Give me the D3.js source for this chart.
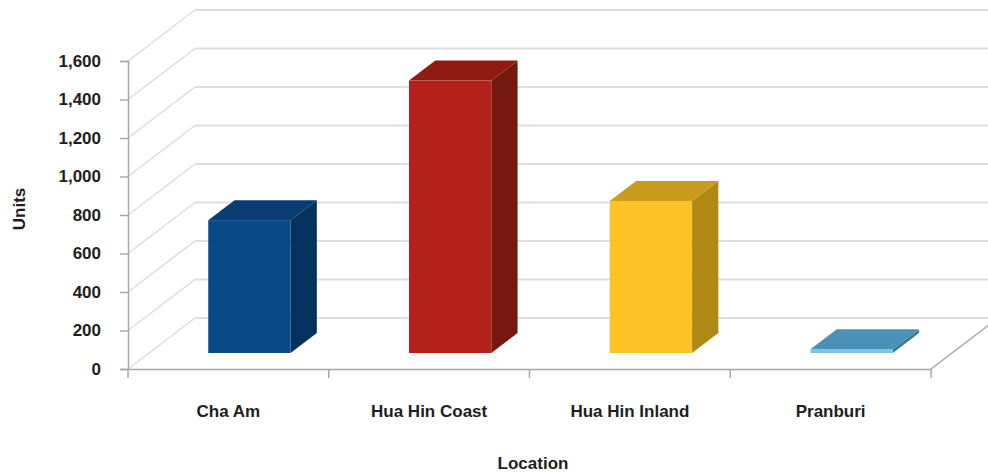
<!DOCTYPE html>
<html>
<head>
<meta charset="utf-8">
<script src="https://cdn.jsdelivr.net/npm/d3@7"></script>
<style>
  html, body { margin: 0; padding: 0; background: #ffffff; }
  svg { display: block; }
  text { font-family: "Liberation Sans", Arial, sans-serif; font-weight: bold; fill: #1e1e1e; }
</style>
</head>
<body>
<svg id="chart" width="988" height="474"></svg>
<script>
// Units by location
const categories = ["Cha Am", "Hua Hin Coast", "Hua Hin Inland", "Pranburi"];
const units = [690, 1415, 790, 20];
const yTicks = [0, 200, 400, 600, 800, 1000, 1200, 1400, 1600];

// face colours per bar: front, side, top
const frontColors = ["#084887", "#b3211a", "#fdc226", "#7cc2e4"];
const sideColors  = ["#05315d", "#741810", "#b08915", "#3a7898"];
const topColors   = ["#073d73", "#8e1b13", "#c99c1e", "#4b90b7"];

const svg = d3.select("#chart");
const W = 988, H = 474;

// front plane of the plot box
const x = d3.scaleBand().domain(categories).range([128, 931]).padding(0);
const y = d3.scaleLinear().domain([0, 1600]).range([369, 61]);

// oblique depth offset of the full box
const DX = 67, DY = -51;
const proj = (px, v, d) => [px + d * DX, y(v) + d * DY];

const fmt = d3.format(",");

// walls: back grid lines and left-wall diagonals
const walls = svg.append("g");
yTicks.forEach(v => {
  const b0 = proj(x.range()[0], v, 1);
  const b1 = proj(x.range()[1], v, 1);
  walls.append("line")
    .attr("x1", b0[0]).attr("y1", b0[1])
    .attr("x2", b1[0] + 40).attr("y2", b1[1])
    .attr("stroke", "#dedede").attr("stroke-width", 2);
  walls.append("line")
    .attr("x1", x.range()[0]).attr("y1", y(v))
    .attr("x2", b0[0]).attr("y2", b0[1])
    .attr("stroke", "#dcdcdc").attr("stroke-width", 1.5);
});

// floor right edge
const fr = proj(x.range()[1], 0, 1);
walls.append("line")
  .attr("x1", x.range()[1]).attr("y1", y(0))
  .attr("x2", fr[0]).attr("y2", fr[1])
  .attr("stroke", "#a8a8a8").attr("stroke-width", 1.5);

// axes
const yAxis = d3.axisLeft(y).tickValues(yTicks).tickFormat(fmt).tickSize(8).tickPadding(19);
const gy = svg.append("g").attr("transform", `translate(${x.range()[0]},0)`).call(yAxis);
gy.select(".domain").attr("stroke", "#a8a8a8").attr("stroke-width", 1.5);
gy.selectAll(".tick line").attr("stroke", "#a8a8a8").attr("stroke-width", 1.5);
gy.selectAll(".tick text").style("font-size", "17px").attr("fill", "#1e1e1e")
  .style("font-family", "'Liberation Sans', Arial, sans-serif").style("font-weight", "bold");

const xAxis = d3.axisBottom(x).tickSize(0).tickPadding(36);
const gx = svg.append("g").attr("transform", `translate(0,${y(0)})`).call(xAxis);
gx.select(".domain").attr("stroke", "#a8a8a8").attr("stroke-width", 1.5);
gx.selectAll(".tick text").style("font-size", "17px").attr("fill", "#1e1e1e")
  .style("font-family", "'Liberation Sans', Arial, sans-serif").style("font-weight", "bold");

// category boundary ticks
const bounds = categories.map(c => x(c)).concat([x.range()[1]]);
gx.selectAll(".bound").data(bounds).enter().append("line")
  .attr("x1", d => d).attr("x2", d => d)
  .attr("y1", 0).attr("y2", 9)
  .attr("stroke", "#a8a8a8").attr("stroke-width", 1.5);

// 3D bars
const d0 = 0.314, d1 = 0.706;
const barW = x.bandwidth() * 0.41;
const bars = svg.append("g");
categories.forEach((c, i) => {
  const v = units[i];
  const xl = x(c) + (x.bandwidth() - barW) / 2;
  const xr = xl + barW;
  const poly = pts => pts.map(p => p.join(",")).join(" ");
  // side face
  bars.append("polygon")
    .attr("points", poly([proj(xr, 0, d0), proj(xr, v, d0), proj(xr, v, d1), proj(xr, 0, d1)]))
    .attr("fill", sideColors[i]);
  // top face
  bars.append("polygon")
    .attr("points", poly([proj(xl, v, d0), proj(xr, v, d0), proj(xr, v, d1), proj(xl, v, d1)]))
    .attr("fill", topColors[i]);
  // front face
  const f0 = proj(xl, v, d0), f1 = proj(xr, 0, d0);
  bars.append("rect")
    .attr("x", f0[0]).attr("y", f0[1])
    .attr("width", f1[0] - f0[0]).attr("height", Math.max(f1[1] - f0[1], 0))
    .attr("fill", frontColors[i]);
});

// axis titles
svg.append("text")
  .attr("transform", "translate(25,209) rotate(-90)")
  .attr("text-anchor", "middle")
  .style("font-size", "17px")
  .text("Units");

svg.append("text")
  .attr("x", 533).attr("y", 469)
  .attr("text-anchor", "middle")
  .style("font-size", "17px")
  .text("Location");
</script>
</body>
</html>
